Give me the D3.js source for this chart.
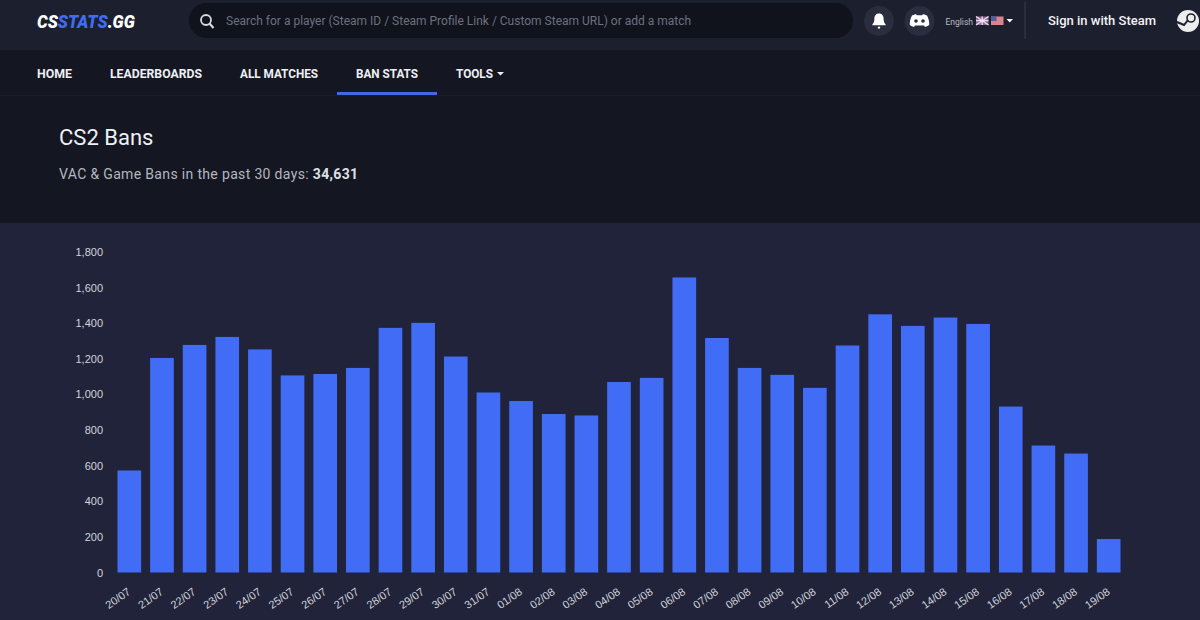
<!DOCTYPE html>
<html><head><meta charset="utf-8">
<style>
html,body{margin:0;padding:0;background:#20233a;overflow:hidden}
svg{display:block}
text{font-family:Roboto,sans-serif}
.tick text{font-family:"Liberation Sans",sans-serif;font-size:11px;fill:#d3d4da}
</style>
<script src="https://cdn.jsdelivr.net/npm/d3@7"></script>
</head><body>
<svg id="c" width="1200" height="620"></svg>
<script>
const categories=["20/07","21/07","22/07","23/07","24/07","25/07","26/07","27/07","28/07","29/07","30/07","31/07","01/08","02/08","03/08","04/08","05/08","06/08","07/08","08/08","09/08","10/08","11/08","12/08","13/08","14/08","15/08","16/08","17/08","18/08","19/08"];
const bans=[573,1205,1278,1323,1253,1107,1115,1149,1374,1402,1213,1011,963,890,882,1070,1093,1657,1317,1149,1110,1037,1275,1450,1385,1432,1396,932,713,668,188];
const yTicks=[0,200,400,600,800,1000,1200,1400,1600,1800];
const navItems=[["HOME",37,35],["LEADERBOARDS",110,92],["ALL MATCHES",240,78],["BAN STATS",356,62],["TOOLS",456,37]];

const svg=d3.select("#c");
// page bands
svg.append("rect").attr("width",1200).attr("height",620).attr("fill","#20233a");
svg.append("rect").attr("width",1200).attr("height",50).attr("fill","#1c1f2e");
svg.append("rect").attr("y",50).attr("width",1200).attr("height",173).attr("fill","#141722");
svg.append("line").attr("x1",0).attr("x2",1200).attr("y1",95.5).attr("y2",95.5).attr("stroke","#191c29");

// logo
const logo=svg.append("text").attr("transform","translate(37,28) scale(.906,1)").attr("font-size",18.5).attr("font-weight",900).attr("font-style","italic").attr("fill","#fff");
logo.append("tspan").text("CS");
logo.append("tspan").attr("fill","#3f6cf0").text("STATS");
logo.append("tspan").text(".GG");

// search
svg.append("rect").attr("x",189).attr("y",3).attr("width",664).attr("height",35).attr("rx",17.5).attr("fill","#10121c");
svg.append("circle").attr("cx",206).attr("cy",20).attr("r",5).attr("fill","none").attr("stroke","#d8d9de").attr("stroke-width",1.8);
svg.append("line").attr("x1",209.5).attr("y1",23.5).attr("x2",213.5).attr("y2",28).attr("stroke","#d8d9de").attr("stroke-width",2.2);
svg.append("text").attr("x",226).attr("y",25).attr("font-size",12).attr("fill","#6d7080").text("Search for a player (Steam ID / Steam Profile Link / Custom Steam URL) or add a match");

// bell and discord
svg.append("circle").attr("cx",879).attr("cy",21).attr("r",15).attr("fill","#2a2d3e");
svg.append("path").attr("d","M879 13.5c-3.4 0-4.6 2.6-4.6 5.4 0 2.8-1 4.2-2 5.3v1h13.2v-1c-1-1.1-2-2.5-2-5.3 0-2.8-1.2-5.4-4.6-5.4z").attr("fill","#fff");
svg.append("circle").attr("cx",879).attr("cy",27.6).attr("r",1.2).attr("fill","#fff");
svg.append("circle").attr("cx",919.5).attr("cy",21).attr("r",15).attr("fill","#2a2d3e");
svg.append("path").attr("d","M912 15.5c2-1 3.4-1.3 4.2-1.3l.5 1h5.6l.5-1c.8 0 2.2.3 4.2 1.3 1.6 3 2.4 6 2.2 9.5-1.4 1-2.8 1.6-4.2 2l-1-1.6h-9l-1 1.6c-1.4-.4-2.8-1-4.2-2-.2-3.5.6-6.5 2.2-9.5z").attr("fill","#fff");
svg.append("circle").attr("cx",916).attr("cy",21).attr("r",1.8).attr("fill","#2a2d3e");
svg.append("circle").attr("cx",923).attr("cy",21).attr("r",1.8).attr("fill","#2a2d3e");

// language
svg.append("text").attr("x",945.5).attr("y",24.5).attr("font-size",8.5).attr("fill","#b9bac2").text("English");
svg.append("rect").attr("x",976).attr("y",16.5).attr("width",12.5).attr("height",8.5).attr("fill","#8b6a9c");
svg.append("path").attr("d","M976 16.5l12.5 8.5M988.5 16.5L976 25M982.2 16.5V25M976 20.7H988.5").attr("stroke","#f0dfe8").attr("stroke-width",1.3);
svg.append("rect").attr("x",991).attr("y",16.5).attr("width",12.5).attr("height",8.5).attr("fill","#d9848a");
svg.append("rect").attr("x",991).attr("y",16.5).attr("width",5.5).attr("height",4.5).attr("fill","#4c5f9e");
svg.append("path").attr("d","M1006.5 19h6.5l-3.25 3.6z").attr("fill","#fff");
svg.append("line").attr("x1",1025).attr("x2",1025).attr("y1",2).attr("y2",39).attr("stroke","#3a3d4d");
svg.append("text").attr("x",1048).attr("y",25).attr("font-size",13).attr("font-weight",500).attr("fill","#f2f2f4").text("Sign in with Steam");
// steam
svg.append("circle").attr("cx",1188).attr("cy",21).attr("r",11).attr("fill","#eceded");
svg.append("circle").attr("cx",1191).attr("cy",18).attr("r",4).attr("fill","none").attr("stroke","#1c1f2e").attr("stroke-width",1.6);
svg.append("path").attr("d","M1177 22l7 3 4-5").attr("fill","none").attr("stroke","#1c1f2e").attr("stroke-width",2);

// nav
svg.selectAll("text.nav").data(navItems).join("text").attr("class","nav")
 .attr("x",d=>d[1]).attr("y",78).attr("font-size",12.4).attr("font-weight",700).attr("fill","#eef0f4")
 .attr("textLength",d=>d[2]).attr("lengthAdjust","spacingAndGlyphs").text(d=>d[0]);
svg.append("path").attr("d","M497 72h7l-3.5 3.5z").attr("fill","#eef0f4");
svg.append("rect").attr("x",337).attr("y",92).attr("width",100).attr("height",3).attr("fill","#3f6ae0");

// heading
svg.append("text").attr("x",59).attr("y",145).attr("font-size",22).attr("fill","#eef0f4").text("CS2 Bans");
const sub=svg.append("text").attr("x",59).attr("y",179).attr("font-size",14).attr("letter-spacing",.34).attr("fill","#b4b6bf");
sub.append("tspan").text("VAC & Game Bans in the past 30 days: ");
sub.append("tspan").attr("font-weight",700).attr("fill","#dfe0e6").text("34,631");

// chart
const x=d3.scaleBand().domain(categories).range([113,1125]).paddingInner(.275).paddingOuter(.1375);
const y=d3.scaleLinear().domain([0,1800]).range([572.5,252]);
svg.append("g").selectAll("rect").data(bans).join("rect")
 .attr("x",(d,i)=>x(categories[i])).attr("y",d=>y(d)).attr("width",x.bandwidth()).attr("height",d=>y(0)-y(d)).attr("fill","#416cf6");
const gy=svg.append("g").attr("transform","translate(109,0)").call(d3.axisLeft(y).tickValues(yTicks).tickSize(0).tickPadding(6).tickFormat(d3.format(",")));
gy.select(".domain").remove();
const gx=svg.append("g").attr("transform","translate(0,572.5)").call(d3.axisBottom(x).tickSize(0));
gx.select(".domain").remove();
gx.selectAll("text").attr("text-anchor","end").attr("dy",0).attr("y",0).attr("x",0)
 .attr("transform","translate(2,21) rotate(-35)");
</script>
</body></html>
